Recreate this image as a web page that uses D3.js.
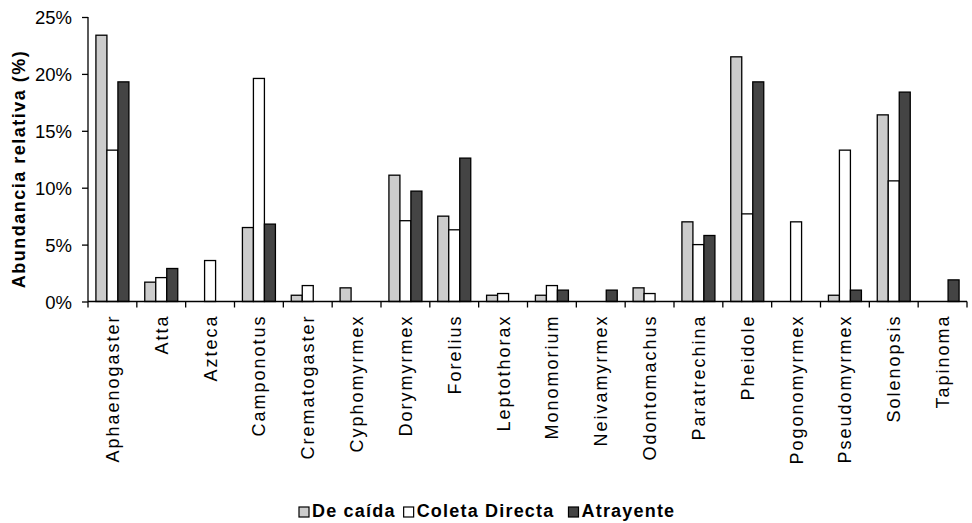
<!DOCTYPE html>
<html>
<head>
<meta charset="utf-8">
<script src="https://cdn.jsdelivr.net/npm/d3@7"></script>
<style>
    body { margin: 0; background: #fff; }
    text { font-family: "Liberation Sans", Arial, sans-serif; fill: #000; }
</style>
</head>
<body>
<div id="chart"></div>
<script>
// Data (percent)
const genera = ["Aphaenogaster", "Atta", "Azteca", "Camponotus", "Crematogaster", "Cyphomyrmex",
    "Dorymyrmex", "Forelius", "Leptothorax", "Monomorium", "Neivamyrmex", "Odontomachus",
    "Paratrechina", "Pheidole", "Pogonomyrmex", "Pseudomyrmex", "Solenopsis", "Tapinoma"];
const deCaida      = [23.4, 1.7, 0, 6.5, 0.55, 1.2, 11.1, 7.5, 0.55, 0.55, 0, 1.2, 7.0, 21.5, 0, 0.55, 16.4, 0];
const coletaDirecta = [13.3, 2.1, 3.6, 19.6, 1.4, 0, 7.1, 6.3, 0.7, 1.4, 0, 0.7, 5.0, 7.7, 7.0, 13.3, 10.6, 0];
const atrayente    = [19.3, 2.9, 0, 6.8, 0, 0, 9.7, 12.6, 0, 1.0, 1.0, 0, 5.8, 19.3, 0, 1.0, 18.4, 1.9];
const seriesNames = ["De caída", "Coleta Directa", "Atrayente"];
const seriesColors = ["#cccccc", "#ffffff", "#444444"];
const yTicks = [0, 5, 10, 15, 20, 25];

const width = 972, height = 523;
const margin = { top: 17, right: 5, bottom: 221.5, left: 88 };

const svg = d3.select("#chart").append("svg")
    .attr("width", width)
    .attr("height", height);

const x = d3.scaleBand()
    .domain(genera)
    .range([margin.left, width - margin.right]);

// the three bars of a genus touch each other, group takes ~2/3 of the band
const xInner = d3.scaleBand()
    .domain(seriesNames)
    .range([0, x.bandwidth()])
    .paddingOuter(0.72)
    .paddingInner(0);

const y = d3.scaleLinear()
    .domain([0, 25])
    .range([height - margin.bottom, margin.top]);

// bars
const allSeries = [deCaida, coletaDirecta, atrayente];
const rows = genera.map((g, i) => ({ g: g, vals: allSeries.map(s => s[i]) }));

const groups = svg.append("g").selectAll("g")
    .data(rows)
    .enter().append("g")
    .attr("transform", d => "translate(" + x(d.g) + ",0)");

groups.selectAll("rect")
    .data(d => d.vals.map((v, k) => ({ v: v, k: k })).filter(e => e.v > 0))
    .enter().append("rect")
    .attr("x", e => xInner(seriesNames[e.k]))
    .attr("y", e => y(e.v))
    .attr("width", xInner.bandwidth())
    .attr("height", e => y(0) - y(e.v))
    .attr("fill", e => seriesColors[e.k])
    .attr("stroke", "#000")
    .attr("stroke-width", 1.3);

// y axis
const yAxis = svg.append("g")
    .attr("transform", "translate(" + margin.left + ",0)")
    .call(d3.axisLeft(y).tickValues(yTicks).tickSize(6).tickPadding(10).tickFormat(d => d + "%"));
yAxis.selectAll("path, line").attr("stroke", "#000").attr("stroke-width", 1.3);
yAxis.select(".domain").attr("d", "M0," + y(25) + "V" + y(0));
yAxis.selectAll("text")
    .style("font-size", "18.5px")
    .attr("dy", "0.36em");

// x axis: ticks at category boundaries, labels rotated
const xAxis = svg.append("g")
    .attr("transform", "translate(0," + y(0) + ")")
    .call(d3.axisBottom(x).tickSize(0).tickPadding(0));
xAxis.select(".domain").attr("stroke", "#000").attr("stroke-width", 1.3)
    .attr("d", "M" + margin.left + ",0H" + (width - margin.right));
xAxis.selectAll("text")
    .attr("transform", "rotate(-90)")
    .attr("text-anchor", "end")
    .attr("x", -13)
    .attr("y", 0)
    .attr("dy", "0.36em")
    .style("font-size", "18px")
    .style("letter-spacing", "2px");

const bounds = genera.map(g => x(g)).concat([x(genera[genera.length - 1]) + x.bandwidth()]);
xAxis.selectAll(".bound")
    .data(bounds)
    .enter().append("line")
    .attr("class", "bound")
    .attr("x1", d => d).attr("x2", d => d)
    .attr("y1", 0).attr("y2", 6)
    .attr("stroke", "#000")
    .attr("stroke-width", 1.3);

// y title
svg.append("text")
    .attr("transform", "translate(25," + 169 + ") rotate(-90)")
    .attr("text-anchor", "middle")
    .style("font-size", "18px")
    .style("font-weight", "bold")
    .style("letter-spacing", "1.5px")
    .text("Abundancia relativa (%)");

// legend
const legend = svg.append("g").attr("transform", "translate(299,517)");
let lx = 0;
seriesNames.forEach((name, i) => {
    legend.append("rect")
        .attr("x", lx)
        .attr("y", -10)
        .attr("width", 10)
        .attr("height", 10)
        .attr("fill", seriesColors[i])
        .attr("stroke", "#000")
        .attr("stroke-width", 1.2);
    const t = legend.append("text")
        .attr("x", lx + 13)
        .attr("y", 0)
        .style("font-size", "18px")
        .style("font-weight", "bold")
        .style("letter-spacing", "1.2px")
        .text(name);
    lx += 13 + t.node().getComputedTextLength() + (i === 1 ? 14 : 8);
});
</script>
</body>
</html>
